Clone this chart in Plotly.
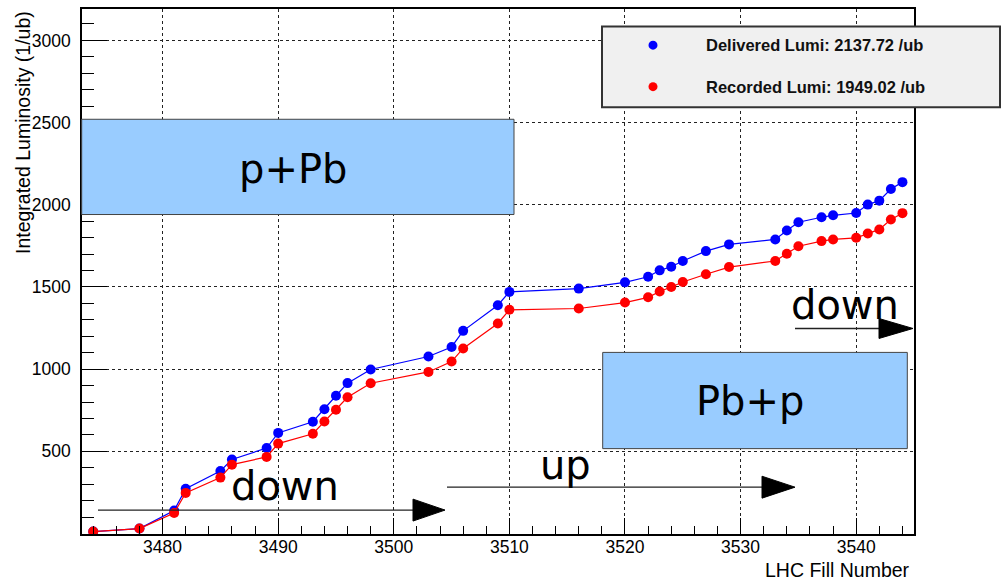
import plotly.graph_objects as go

# ---------------- data ----------------
fills = [3474, 3478, 3481, 3482, 3485, 3486, 3489, 3490, 3493, 3494, 3495, 3496,
         3498, 3503, 3505, 3506, 3509, 3510, 3516, 3520, 3522, 3523, 3524, 3525,
         3527, 3529, 3533, 3534, 3535, 3537, 3538, 3540, 3541, 3542, 3543, 3544]
delivered = [12, 30, 140, 272, 380, 450, 520, 612, 680, 756, 838, 915,
             998, 1077, 1135, 1233, 1389, 1470, 1490, 1528, 1562, 1601, 1623, 1658,
             1718, 1759, 1789, 1843, 1894, 1924, 1936, 1950, 2001, 2025, 2096, 2137.72]
recorded = [12, 30, 125, 247, 340, 419, 466, 547, 607, 681, 753, 829,
            914, 983, 1046, 1126, 1278, 1361, 1369, 1405, 1437, 1472, 1500, 1530,
            1577, 1621, 1658, 1702, 1748, 1779, 1789, 1799, 1825, 1850, 1910, 1949.02]
x_ticks = [3480, 3490, 3500, 3510, 3520, 3530, 3540]
y_ticks = [500, 1000, 1500, 2000, 2500, 3000]
series_names = ["Delivered Lumi", "Recorded Lumi"]
series_colors = ["#0000ff", "#ff0000"]

# ---------------- layout helpers ----------------
W, H = 1001, 581
ML, MR, MT, MB = 82, 87, 7, 47
PW, PH = W - ML - MR, H - MT - MB


def px(x):
    return (x - ML) / PW


def py(y):
    return (H - MB - y) / PH


fig = go.Figure()
fig.add_trace(go.Scatter(x=fills, y=delivered, mode="lines+markers", name=series_names[0],
                         line=dict(color=series_colors[0], width=1.2),
                         marker=dict(size=10, color=series_colors[0])))
fig.add_trace(go.Scatter(x=fills, y=recorded, mode="lines+markers", name=series_names[1],
                         line=dict(color=series_colors[1], width=1.2),
                         marker=dict(size=10, color=series_colors[1])))

tickfont = dict(family="Liberation Sans, Arial, sans-serif", size=17.5, color="black")
axis_common = dict(showline=True, linecolor="black", linewidth=1.5, mirror=True,
                   ticks="inside", tickcolor="black", tickwidth=1,
                   showgrid=True, gridcolor="#222", griddash="dot", gridwidth=1,
                   zeroline=False, tickfont=tickfont)

fig.update_layout(
    width=W, height=H,
    margin=dict(l=ML, r=MR, t=MT, b=MB, pad=0),
    plot_bgcolor="white", paper_bgcolor="white",
    showlegend=False,
    xaxis=dict(range=[3473.03, 3545.0], tickmode="array", tickvals=x_ticks, ticklen=16,
               minor=dict(tickmode="linear", tick0=3480, dtick=2, ticks="inside", ticklen=8,
                          tickcolor="black", tickwidth=1, showgrid=False),
               ticklabelstandoff=-4,
               **axis_common),
    yaxis=dict(range=[-3, 3191], tickmode="array", tickvals=y_ticks, ticklen=25,
               minor=dict(tickmode="linear", tick0=0, dtick=100, ticks="inside", ticklen=12.5,
                          tickcolor="black", tickwidth=1, showgrid=False),
               ticklabelstandoff=6,
               **axis_common),
)

# axis titles
fig.add_annotation(text="LHC Fill Number", xref="paper", yref="paper", x=px(912), y=py(570),
                   xanchor="right", yanchor="middle", showarrow=False,
                   font=dict(family="Liberation Sans, Arial, sans-serif", size=19.5, color="black"))
fig.add_annotation(text="Integrated Luminosity (1/ub)", xref="paper", yref="paper",
                   x=px(23), y=py(131.5), xanchor="center", yanchor="middle", textangle=-90,
                   showarrow=False,
                   font=dict(family="Liberation Sans, Arial, sans-serif", size=19.5, color="black"))

# legend box (drawn manually to match ROOT style)
fig.add_shape(type="rect", xref="paper", yref="paper", x0=px(602), x1=px(1000), y0=py(105.5), y1=py(24.5),
              fillcolor="#f0f0f0", line=dict(color="#333", width=2), layer="above")
legend_rows = [(43.3, series_names[0], delivered[-1], series_colors[0]),
               (85.0, series_names[1], recorded[-1], series_colors[1])]
for yc, name, total, col in legend_rows:
    fig.add_shape(type="circle", xref="paper", yref="paper", x0=px(648.5), x1=px(657.5),
                  y0=py(yc + 4.5), y1=py(yc - 4.5), fillcolor=col, line=dict(color=col, width=0),
                  layer="above")
    fig.add_annotation(text=f"<b>{name}: {total:.2f} /ub</b>", xref="paper", yref="paper",
                       x=px(704), y=py(yc), xanchor="left", yanchor="middle", showarrow=False,
                       font=dict(family="Liberation Sans, Arial, sans-serif", size=16.5, color="#111"))

# labelled boxes
big_font = dict(family="DejaVu Sans, sans-serif", size=40, color="black")
boxes = [((81.7, 514, 117.7, 213.3), "p+Pb", (293, 168)),
         ((602.7, 907.3, 351.7, 448.3), "Pb+p", (750, 400))]
for (x0, x1, y0, y1), label, (tx, ty) in boxes:
    fig.add_shape(type="rect", xref="paper", yref="paper", x0=px(x0), x1=px(x1), y0=py(y1), y1=py(y0),
                  fillcolor="#99ccff", line=dict(color="#444", width=1), layer="above")
    fig.add_annotation(text=label, xref="paper", yref="paper", x=px(tx), y=py(ty),
                       xanchor="center", yanchor="middle", showarrow=False, font=big_font)

# direction arrows with labels
arrows = [((98, 413, 445, 510, 11), "down", (285, 486)),
          ((447, 762, 795, 487, 11), "up", (565, 465)),
          ((795, 879, 913, 327.7, 10), "down", (845, 304))]
for (xs, xh, xt, ya, hh), label, (tx, ty) in arrows:
    fig.add_shape(type="line", xref="paper", yref="paper", x0=px(xs), x1=px(xh + 2), y0=py(ya), y1=py(ya),
                  line=dict(color="#222", width=1.3), layer="above")
    path = (f"M {px(xh)} {py(ya - hh)} L {px(xt)} {py(ya)} L {px(xh)} {py(ya + hh)} Z")
    fig.add_shape(type="path", xref="paper", yref="paper", path=path,
                  fillcolor="black", line=dict(color="black", width=1), layer="above")
    fig.add_annotation(text=label, xref="paper", yref="paper", x=px(tx), y=py(ty),
                       xanchor="center", yanchor="middle", showarrow=False, font=big_font)

fig.write_html("out.html")
